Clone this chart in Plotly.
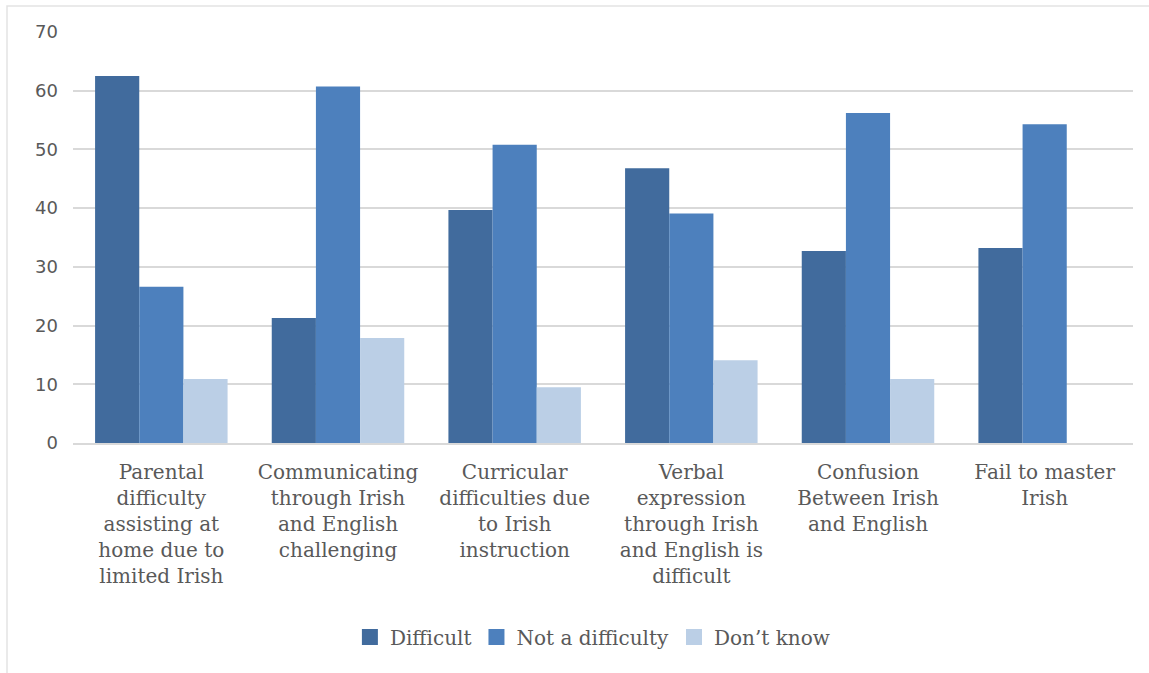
import plotly.graph_objects as go

categories = [
    "Parental<br>difficulty<br>assisting at<br>home due to<br>limited Irish",
    "Communicating<br>through Irish<br>and English<br>challenging",
    "Curricular<br>difficulties due<br>to Irish<br>instruction",
    "Verbal<br>expression<br>through Irish<br>and English is<br>difficult",
    "Confusion<br>Between Irish<br>and English",
    "Fail to master<br>Irish",
]
series_names = ["Difficult", "Not a difficulty", "Don\u2019t know"]
difficult = [62.5, 21.3, 39.7, 46.8, 32.7, 33.2]
not_a_difficulty = [26.6, 60.7, 50.8, 39.1, 56.2, 54.3]
dont_know = [10.9, 17.9, 9.5, 14.1, 10.9, None]

y_ticks = [0, 10, 20, 30, 40, 50, 60, 70]

colors = ["#416B9D", "#4D80BD", "#BBCFE6"]
serif = "DejaVu Serif"
sans = "DejaVu Sans"
text_grey = "#595959"

fig = go.Figure()
for name, values, color in zip(series_names,
                               [difficult, not_a_difficulty, dont_know],
                               colors):
    fig.add_trace(go.Bar(name=name, x=categories, y=values, showlegend=False,
                         marker=dict(color=color, line=dict(width=0))))

# Legend entries drawn as larger square swatches
for name, color in zip(series_names, colors):
    fig.add_trace(go.Scatter(name=name, x=[None], y=[None], mode="markers",
                             marker=dict(symbol="square", size=16, color=color),
                             showlegend=True, hoverinfo="skip"))

fig.update_layout(
    width=1149, height=673,
    margin=dict(l=73, r=16, t=32, b=230),
    paper_bgcolor="white", plot_bgcolor="white",
    barmode="group", bargap=0.25, bargroupgap=0,
    showlegend=True,
    legend=dict(orientation="h", x=0.49, xanchor="center", xref="paper",
                y=-0.472, yanchor="middle",
                font=dict(family=serif, size=20, color=text_grey),
                itemwidth=30, traceorder="normal"),
    font=dict(family=serif, color=text_grey),
    shapes=[dict(type="rect", xref="paper", yref="paper",
                 x0=-66 / 1060, x1=1.05, y0=-1.0, y1=(443 - 6) / 411,
                 line=dict(color="#E3E3E3", width=1.5), layer="below")],
)

fig.update_xaxes(
    showline=True, linecolor="#D9D9D9", linewidth=1.5,
    ticks="", tickfont=dict(family=serif, size=20, color=text_grey),
    ticklabelstandoff=10,
)
fig.update_yaxes(
    range=[0, 70], tickvals=y_ticks,
    showgrid=True, gridcolor="#D9D9D9", gridwidth=1.5,
    zeroline=False, showline=False, ticks="",
    tickfont=dict(family=sans, size=18, color=text_grey),
    ticklabelstandoff=14,
)

fig.write_html("out.html")
